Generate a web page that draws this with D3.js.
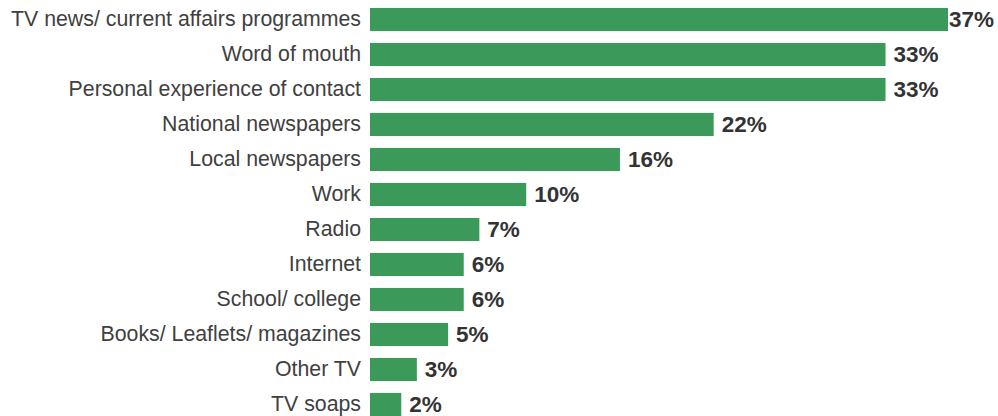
<!DOCTYPE html>
<html>
<head>
<meta charset="utf-8">
<script src="https://cdn.jsdelivr.net/npm/d3@7/dist/d3.min.js"></script>
<style>
  html, body { margin: 0; padding: 0; background: #fff; }
  svg { display: block; }
</style>
</head>
<body>
<div id="chart"></div>
<script>
// Sources of information, share of respondents (%)
const categories = [
  "TV news/ current affairs programmes",
  "Word of mouth",
  "Personal experience of contact",
  "National newspapers",
  "Local newspapers",
  "Work",
  "Radio",
  "Internet",
  "School/ college",
  "Books/ Leaflets/ magazines",
  "Other TV",
  "TV soaps"
];
const values = [37, 33, 33, 22, 16, 10, 7, 6, 6, 5, 3, 2];

const width = 998, height = 416;
const margin = { top: 2, right: 0, bottom: 0, left: 370 };
const xMax = 37;
const plotRight = 948;

const svg = d3.select("#chart").append("svg")
  .attr("width", width)
  .attr("height", height);

const x = d3.scaleLinear()
  .domain([0, xMax])
  .range([margin.left, plotRight]);

const y = d3.scaleBand()
  .domain(categories)
  .range([margin.top, margin.top + 35 * categories.length])
  .paddingInner(0.34)
  .paddingOuter(0.17);

// Category axis: labels only, no line or ticks
const yAxis = d3.axisLeft(y).tickSize(0).tickPadding(9);
const gy = svg.append("g")
  .attr("transform", `translate(${margin.left},0)`)
  .call(yAxis);
gy.select(".domain").remove();
gy.selectAll("text")
  .attr("font-family", "Arial, 'Liberation Sans', sans-serif")
  .attr("font-size", 21.3)
  .attr("fill", "#404040");

const data = categories.map((c, i) => ({ c, v: values[i] }));

svg.append("g")
  .selectAll("rect")
  .data(data)
  .join("rect")
  .attr("x", x(0))
  .attr("y", d => y(d.c))
  .attr("width", d => x(d.v) - x(0))
  .attr("height", y.bandwidth())
  .attr("fill", "#3b9a59");

// Value labels, kept inside the canvas on the right
const labels = svg.append("g")
  .selectAll("text")
  .data(data)
  .join("text")
  .attr("y", d => y(d.c) + y.bandwidth() / 2)
  .attr("dy", "0.34em")
  .attr("font-family", "Arial, 'Liberation Sans', sans-serif")
  .attr("font-size", 22.5)
  .attr("font-weight", "bold")
  .attr("fill", "#333333")
  .text(d => d.v + "%");

labels.each(function(d) {
  const w = this.getComputedTextLength();
  const pos = Math.min(x(d.v) + 8, width - w - 4);
  d3.select(this).attr("x", Math.max(pos, x(d.v)));
});
</script>
</body>
</html>
